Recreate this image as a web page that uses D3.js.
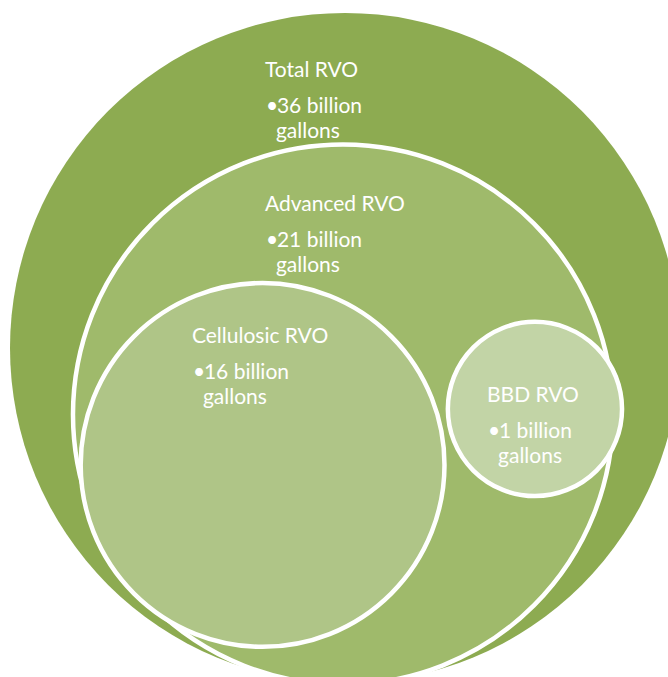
<!DOCTYPE html>
<html>
<head>
<meta charset="utf-8">
<script src="https://cdn.jsdelivr.net/npm/d3@7"></script>
<style>
  html, body { margin: 0; padding: 0; background: #fff; }
  svg { display: block; }
</style>
</head>
<body>
<svg id="chart" width="668" height="677"></svg>
<script>
"use strict";

// data
const categories = ["Total RVO", "Advanced RVO", "Cellulosic RVO", "BBD RVO"];
const volumes = [36, 21, 16, 1];           // billion gallons
const volumeUnit = "billion";
const volumeUnit2 = "gallons";

// layout of the stacked venn, in units of the outer circle (centre 0,0 radius 1)
const centresX = [0, -0.006, -0.246, 0.567];
const centresY = [0, 0.1985, 0.349, 0.182];
const radii = [1, 0.806, 0.543, 0.26];
const labelX = [-0.239, -0.239, -0.457, 0.424];
const labelY = [-0.809, -0.409, -0.015, 0.161];
const fills = ["#8dab51", "#9fba6b", "#afc587", "#c2d4a6"];

let svg = d3.select("svg");

let x = d3.scaleLinear().domain([-1, 1]).range([10, 680]);
let y = d3.scaleLinear().domain([-1, 1]).range([13, 683]);
let r = d3.scaleLinear().domain([0, 1]).range([0, 335]);

let rows = categories.map((name, i) => ({
  name: name,
  value: volumes[i],
  cx: centresX[i],
  cy: centresY[i],
  r: radii[i],
  lx: labelX[i],
  ly: labelY[i],
  fill: fills[i]
}));

svg.append("g")
  .selectAll("circle")
  .data(rows)
  .join("circle")
    .attr("cx", d => x(d.cx))
    .attr("cy", d => y(d.cy))
    .attr("r", d => r(d.r))
    .attr("fill", d => d.fill)
    .attr("stroke", (d, i) => i == 0 ? "none" : "#fff")
    .attr("stroke-width", 4.5);

let fontSize = 21;
let label = svg.append("g")
    .style("font", `${fontSize}px Lato, "Open Sans", sans-serif`)
    .attr("fill", "#fff")
  .selectAll("g")
  .data(rows)
  .join("g")
    .attr("transform", d => `translate(${x(d.lx)},${y(d.ly)})`);

label.append("text")
    .text(d => d.name);

// bullet line, then the hanging second line
label.append("text")
    .attr("y", 36.5)
    .call(t => t.append("tspan").attr("x", 1).text("\u2022"))
    .call(t => t.append("tspan").attr("x", 12).text(d => `${d.value} ${volumeUnit}`));

label.append("text")
    .attr("x", 11)
    .attr("y", 61.5)
    .text(volumeUnit2);
</script>
</body>
</html>
